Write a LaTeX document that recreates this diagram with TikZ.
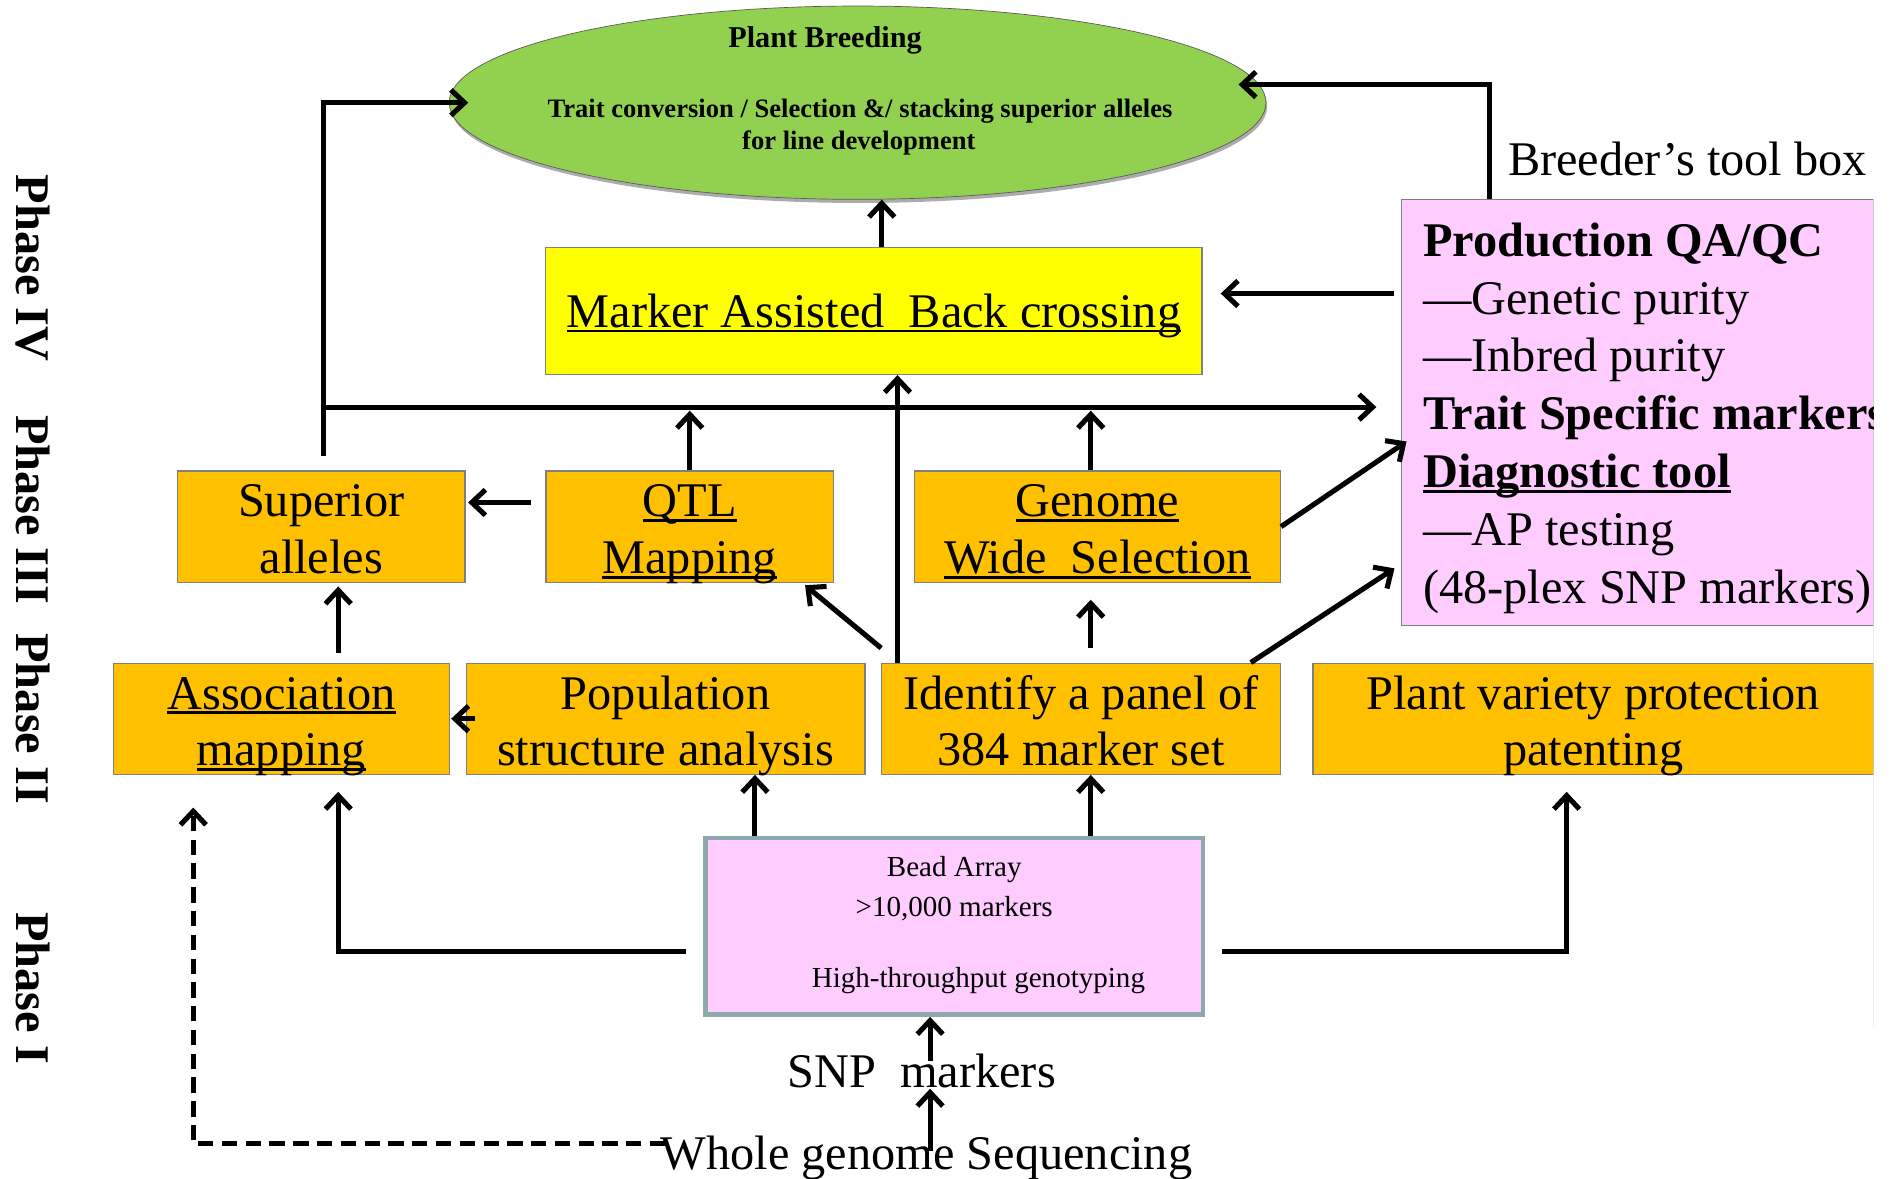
\documentclass[tikz,border=0pt]{standalone}
\usepackage{fontspec}
\setmainfont{Liberation Serif}
\usetikzlibrary{arrows.meta,calc,shapes.geometric}
\definecolor{pbgreen}{HTML}{92D050}
\definecolor{mabcyellow}{HTML}{FFFF00}
\definecolor{boxorange}{HTML}{FFC000}
\definecolor{toolpink}{HTML}{FFCCFF}
\definecolor{beadedge}{HTML}{8EA9AC}
\definecolor{edgegray}{HTML}{7F7F7F}
\newsavebox\ulsave
\newcommand\ulx[1]{\sbox\ulsave{#1}\rlap{\rule[-0.1em]{\wd\ulsave}{0.055em}}\usebox\ulsave}
\newcommand\twol[2]{\raisebox{5.7pt}[0pt][0pt]{\begin{tabular}[t]{@{}c@{}}#1\\#2\end{tabular}}}
\newcommand\onel[1]{\raisebox{-9.6pt}[0pt][0pt]{#1}}
\begin{document}
\begin{tikzpicture}[x=0.025cm,y=-0.025cm,
  big/.style={font=\fontsize{28.45pt}{33.4pt}\selectfont},
  bigb/.style={font=\bfseries\fontsize{28.45pt}{33.4pt}\selectfont},
  elltext/.style={font=\bfseries\fontsize{15.65pt}{19pt}\selectfont, inner sep=0pt},
  beadtext/.style={font=\fontsize{17.1pt}{20pt}\selectfont, inner sep=0pt},
  box/.style={draw=edgegray, line width=0.7pt, fill=boxorange, inner sep=0pt,
              minimum height=2.3cm, big},
  arr/.style={line width=3pt, -{Straight Barb[length=8pt,width=15pt]}},
  dasharr/.style={arr, dash pattern=on 9pt off 5pt},
  phase/.style={rotate=-90, bigb, inner sep=0pt}]
\useasboundingbox (0,0) rectangle (1568,976);
\begin{scope}
\clip (0,0) rectangle (1551,976);
% phase labels
\node[phase] (ph4) at (27,222) {Phase IV};
\node[phase] (ph3) at (27,422) {Phase III};
\node[phase] (ph2) at (27,595) {Phase II};
\node[phase] (ph1) at (27,818) {Phase I};
% plant breeding ellipse
\node[ellipse, fill=gray!65, minimum width=16.9cm, minimum height=4cm, inner sep=0pt] (pbshadow) at (711,88) {};
\node[ellipse, fill=pbgreen, draw=gray!70!black, line width=0.4pt, minimum width=16.9cm, minimum height=4cm, inner sep=0pt] (pb) at (710,85) {};
\node[elltext, font=\bfseries\fontsize{17.8pt}{21pt}\selectfont] (pbtitle) at (683,33) {Plant Breeding};
\node[elltext] (pbl1) at (712,92) {Trait conversion / Selection \&/ stacking superior alleles};
\node[elltext] (pbl2) at (711,118) {for line development};
% MABC
\node[draw=edgegray, line width=0.7pt, fill=mabcyellow, minimum width=13.575cm, minimum height=2.625cm, inner sep=0pt, big] (mabc) at (723.5,257.5) {\onel{\ulx{Marker Assisted\ \ Back crossing}}};
% tool box
\node[big, inner sep=0pt] (btb) at (1397,132) {Breeder’s tool box};
\node[draw=edgegray, line width=0.7pt, fill=toolpink, minimum width=9.775cm, minimum height=8.825cm, inner sep=0pt] (tb) at (1355.5,341.5) {};
\node[anchor=north west, align=left, inner sep=0pt, font=\fontsize{28.45pt}{34.1pt}\selectfont] (tbtext) at (1178,184)
 {\textbf{Production QA/QC}\\—Genetic purity\\—Inbred purity\\\textbf{Trait Specific markers}\\\textbf{\ulx{Diagnostic tool}}\\—AP testing\\(48-plex SNP markers)};
% phase III boxes
\node[box, minimum width=5.95cm] (sup) at (266,436) {\twol{Superior}{alleles}};
\node[box, minimum width=5.95cm] (qtl) at (571,436) {\twol{\ulx{QTL}}{\ulx{Mapping}}};
\node[box, minimum width=7.575cm] (gws) at (908.5,436) {\twol{\ulx{Genome}}{\ulx{Wide\ \ Selection}}};
% phase II boxes
\node[box, minimum width=6.95cm] (assoc) at (233,595) {\twol{\ulx{Association}}{\ulx{mapping}}};
\node[box, minimum width=8.25cm] (pop) at (551,595) {\twol{Population}{structure analysis}};
\node[box, minimum width=8.25cm] (ident) at (895,595) {\twol{Identify a panel of}{384 marker set}};
\node[box, minimum width=11.6cm] (pvp) at (1319,595) {\twol{Plant variety protection}{patenting}};
% bead array
\node[draw=beadedge, line width=2.6pt, fill=toolpink, minimum width=10.3cm, minimum height=3.65cm, inner sep=0pt] (bead) at (790,767) {};
\node[beadtext] (bd1) at (790,720) {Bead Array};
\node[beadtext] (bd2) at (790,752) {>10,000 markers};
\node[beadtext] (bd3) at (810,812) {High-throughput genotyping};
\node[big, inner sep=0pt] (snp) at (763,887) {SNP\ \ markers};
\node[big, inner sep=0pt] (wgs) at (767,959) {Whole genome Sequencing};
% reference coordinates
\coordinate (vA) at (730,0);
\coordinate (vB) at (571,0);
\coordinate (vC) at (903,0);
\coordinate (vD) at (743,0);
\coordinate (vE) at (280,0);
\coordinate (vF) at (625,0);
\coordinate (vG) at (1233,0);
\coordinate (vH) at (1297,0);
\coordinate (vI) at (770,0);
\coordinate (vJ) at (160,0);
\coordinate (vK) at (268,0);
\coordinate (hJ) at (0,337);
\coordinate (hR) at (0,70);
\coordinate (hQ) at (0,416);
\coordinate (hB) at (0,788);
\coordinate (hTB) at (0,243);
% connectors
\draw[arr] (mabc.north -| vA) -- (pb.south -| vA);
\draw[arr] ($(sup.north -| vK)+(0,-12)$) |- ($(pb.west)+(16,0)$);
\draw[arr] (vK |- hJ) -- ($(tb.west |- hJ)+(-20,0)$);
\draw[arr] (qtl.north -| vB) -- ($(vB |- hJ)+(0,3)$);
\draw[arr] (gws.north -| vC) -- ($(vC |- hJ)+(0,3)$);
\draw[arr] (ident.north -| vD) -- (mabc.south -| vD);
\draw[arr] ($(ident.north west)+(0,-12)$) -- ($(qtl.south east)+(-24,2)$);
\draw[arr] ($(ident.north -| vC)+(0,-12)$) -- ($(gws.south -| vC)+(0,14)$);
\draw[arr] ($(ident.north east)+(-25,0)$) -- ($(tb.south west)+(-5,-48)$);
\draw[arr] (gws.east) -- ($(tb.west)+(5,24)$);
\draw[arr] ($(tb.west |- hTB)+(-5,0)$) -- ($(mabc.east |- hTB)+(15,0)$);
\draw[arr] (tb.north -| vG) |- ($(pb.east |- hR)+(-23,0)$);
\draw[arr] ($(qtl.west |- hQ)+(-12,0)$) -- ($(sup.east |- hQ)+(2,0)$);
\draw[arr] ($(assoc.north -| vE)+(0,-8)$) -- ($(sup.south -| vE)+(0,3)$);
\draw[arr] ($(pop.west)+(8,0)$) -- ($(assoc.east)+(1,0)$);
\draw[arr] (bead.north -| vF) -- (pop.south -| vF);
\draw[arr] (bead.north -| vC) -- (ident.south -| vC);
\draw[arr] ($(bead.west |- hB)+(-14,0)$) -| ($(assoc.south -| vE)+(0,14)$);
\draw[arr] ($(bead.east |- hB)+(14,0)$) -| ($(pvp.south -| vH)+(0,14)$);
\draw[arr] ($(snp.center -| vI)+(0,-9)$) -- (bead.south -| vI);
\draw[arr] ($(wgs.center -| vI)+(0,-6)$) -- (snp.south -| vI);
\draw[dasharr] ($(wgs.west)+(4,-12)$) -| ($(assoc.south -| vJ)+(0,27)$);
\draw[gray!40, line width=0.5pt] (1551,518) -- (1551,849);
\end{scope}
\end{tikzpicture}
\end{document}
